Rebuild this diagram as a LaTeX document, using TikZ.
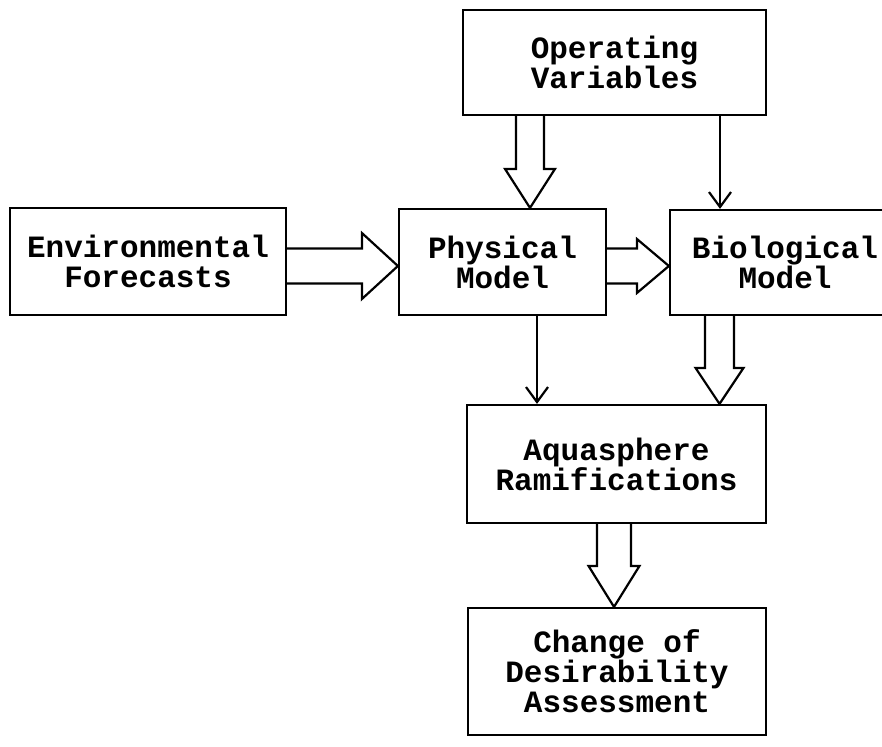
\documentclass[tikz,border=0pt]{standalone}
\usepackage{fontspec}
\setmonofont{Liberation Mono}
\usetikzlibrary{calc,arrows.meta}
\tikzset{
  blk/.style={draw, line width=2.2pt, rectangle, inner sep=0pt, align=center,
    font=\ttfamily\bfseries\fontsize{31}{30}\selectfont},
  fat/.style={draw, line width=2.2pt, line join=miter},
  thin/.style={draw, line width=2.2pt, -{Straight Barb[length=15pt,width=22pt,line width=2.2pt]}}
}
\newcommand\fatv[5]{%
  \draw[fat] ($(#1)+(-#3,0)$) -- ($(#2)+(-#3,-#5)$) -- ($(#2)+(-#4,-#5)$) -- (#2)
    -- ($(#2)+(#4,-#5)$) -- ($(#2)+(#3,-#5)$) -- ($(#1)+(#3,0)$);}
\newcommand\fath[5]{%
  \draw[fat] ($(#1)+(0,-#3)$) -- ($(#2)+(-#5,-#3)$) -- ($(#2)+(-#5,-#4)$) -- (#2)
    -- ($(#2)+(-#5,#4)$) -- ($(#2)+(-#5,#3)$) -- ($(#1)+(0,#3)$);}
\begin{document}
\begin{tikzpicture}[x=1pt,y=-1pt]
\useasboundingbox (0,0) rectangle (882,746);
\clip (0,0) rectangle (882,746);
% boxes
\node[blk, minimum width=303pt, minimum height=105pt] (ov) at (614.5,62.5) {Operating\\Variables};
\node[blk, minimum width=276pt, minimum height=107pt] (env) at (148,261.5) {Environmental\\Forecasts};
\node[blk, minimum width=207pt, minimum height=106pt] (phys) at (502.5,262) {Physical\\Model};
\node[blk, minimum width=230pt, minimum height=105pt] (bio) at (785,262.5) {Biological\\Model};
\node[blk, minimum width=299pt, minimum height=118pt] (aqua) at (616.5,464) {Aquasphere\\Ramifications};
\node[blk, minimum width=298pt, minimum height=127pt] (chg) at (617,671.5) {Change of\\Desirability\\Assessment};
% anchor coordinates
\coordinate (ovA) at (530,0 |- ov.south);
\coordinate (phA) at (530,0 |- phys.north);
\coordinate (envA) at (0,266 -| env.east);
\coordinate (phW) at (0,266 -| phys.west);
\coordinate (phE) at (0,266 -| phys.east);
\coordinate (bioW) at (0,266 -| bio.west);
\coordinate (ovB) at (720,0 |- ov.south);
\coordinate (bioN) at (720,0 |- bio.north);
\coordinate (phS) at (537,0 |- phys.south);
\coordinate (aqN1) at (537,0 |- aqua.north);
\coordinate (bioS) at (719.5,0 |- bio.south);
\coordinate (aqN2) at (719.5,0 |- aqua.north);
\coordinate (aqS) at (614,0 |- aqua.south);
\coordinate (chN) at (614,0 |- chg.north);
% fat arrows
\fatv{ovA}{phA}{14}{25}{39}
\fath{envA}{phW}{17.5}{33}{36}
\fath{phE}{bioW}{17.5}{27}{32}
\fatv{bioS}{aqN2}{14.5}{24}{36}
\fatv{aqS}{chN}{17}{25.5}{41}
% thin arrows
\draw[thin] (ovB) -- (bioN);
\draw[thin] (phS) -- (aqN1);
\end{tikzpicture}
\end{document}
